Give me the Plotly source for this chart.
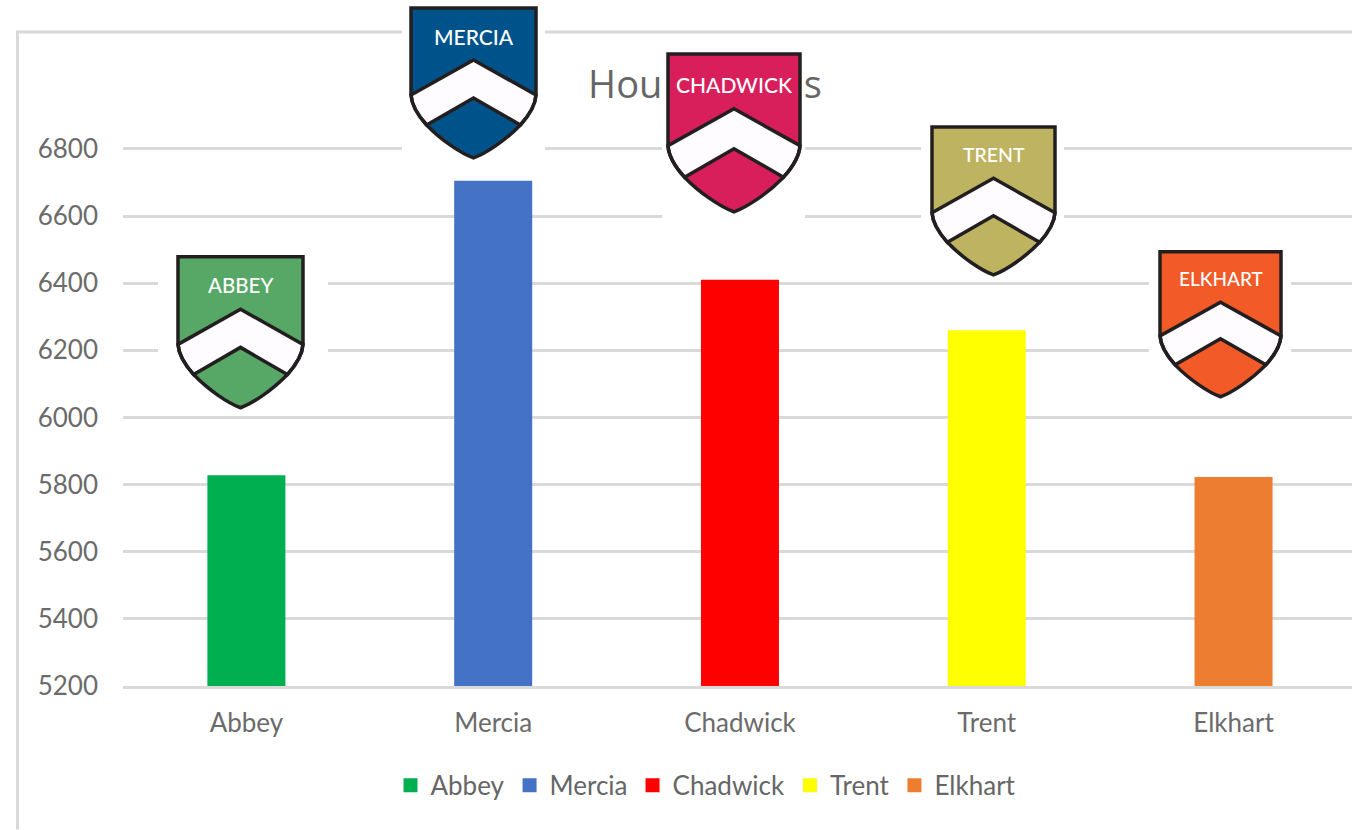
import plotly.graph_objects as go

houses = ["Abbey", "Mercia", "Chadwick", "Trent", "Elkhart"]
points = [5825, 6702, 6407, 6257, 5820]
bar_colors = ["#00b050", "#4472c4", "#ff0000", "#ffff00", "#ed7d31"]
y_ticks = [5200, 5400, 5600, 5800, 6000, 6200, 6400, 6600, 6800]
title_text = "House Points"
crest_labels = ["ABBEY", "MERCIA", "CHADWICK", "TRENT", "ELKHART"]
crest_colors = ["#57a866", "#00528a", "#d81e5b", "#bdb361", "#f25a27"]
crest_label_sizes = [20.5, 21, 21, 19.5, 19]

W, H = 1352, 830
L, T, B = 123, 100, 686.5
PX_6800 = 149
Y_TOP = 6800 + (PX_6800 - T) * 1600 / (B - PX_6800)
def px(x): return (x - L) / (W - L)
def py(y): return (B - y) / (B - T)

# decoration boxes (left, right, top, bottom) in page pixels
crest_boxes = [(178, 303, 257, 408), (411, 536, 8, 158), (668, 800, 54, 212),
               (932, 1055, 127, 275), (1160, 1281, 252, 397)]
mask_boxes = [(158, 328, 248, 400), (402, 545, 0, 162), (662, 805, 46, 218),
              (921, 1064, 122, 278), (1149, 1291, 246, 402)]
label_y = [285, 36, 84, 155, 279]

def pt(box, nx, ny):
    l, r, t, b = box
    return f"{px((l + r) / 2 + nx * (r - l) / 2):.5f},{py(t + ny * (b - t)):.5f}"

def shield_path(box):
    return ("M" + pt(box, -1, 0) + " L" + pt(box, 1, 0) + " L" + pt(box, 1, .58) +
            " C" + pt(box, .99, .65) + " " + pt(box, .88, .72) + " " + pt(box, .75, .78) +
            " C" + pt(box, .52, .88) + " " + pt(box, .2, .97) + " " + pt(box, 0, 1) +
            " C" + pt(box, -.2, .97) + " " + pt(box, -.52, .88) + " " + pt(box, -.75, .78) +
            " C" + pt(box, -.88, .72) + " " + pt(box, -.99, .65) + " " + pt(box, -1, .58) + " Z")

def band_path(box):
    return ("M" + pt(box, -1, .58) + " L" + pt(box, 0, .347) + " L" + pt(box, 1, .58) +
            " C" + pt(box, .99, .65) + " " + pt(box, .88, .72) + " " + pt(box, .75, .78) +
            " L" + pt(box, 0, .6) + " L" + pt(box, -.75, .78) +
            " C" + pt(box, -.88, .72) + " " + pt(box, -.99, .65) + " " + pt(box, -1, .58) + " Z")

ink = "#231f20"
shapes = [
    dict(type="path", xref="paper", yref="paper",
         path=f"M{px(17.5)},{py(830)} L{px(17.5)},{py(32)} L{px(1360)},{py(32)}",
         line=dict(color="#d9d9d9", width=3), layer="above"),
    dict(type="rect", xref="paper", yref="paper", x0=px(560), x1=px(850), y0=py(110), y1=py(62),
         line=dict(width=0), fillcolor="rgba(0,0,0,0)", layer="above",
         label=dict(text=title_text, font=dict(family="Open Sans", size=38, color="#666666"),
                    textposition="middle center")),
]
for box in mask_boxes:
    shapes.append(dict(type="rect", xref="paper", yref="paper", x0=px(box[0]), x1=px(box[1]),
                       y0=py(box[3]), y1=py(box[2]), line=dict(width=0),
                       fillcolor="white", layer="above"))
for box, col in zip(crest_boxes, crest_colors):
    shapes.append(dict(type="path", xref="paper", yref="paper", path=shield_path(box),
                       fillcolor=col, line=dict(width=0), layer="above"))
    shapes.append(dict(type="path", xref="paper", yref="paper", path=band_path(box),
                       fillcolor="#fefcfe", line=dict(color=ink, width=3.5), layer="above"))
    shapes.append(dict(type="path", xref="paper", yref="paper", path=shield_path(box),
                       fillcolor="rgba(0,0,0,0)", line=dict(color=ink, width=3.5), layer="above"))

annotations = [
    dict(text=t, xref="paper", yref="paper", x=px((b[0] + b[1]) / 2), y=py(yy),
         xanchor="center", yanchor="middle", showarrow=False,
         font=dict(family="Lato", size=s, color="white", weight=500))
    for t, b, yy, s in zip(crest_labels, crest_boxes, label_y, crest_label_sizes)
]

fig = go.Figure()
for name, val, col in zip(houses, points, bar_colors):
    fig.add_trace(go.Bar(x=[name], y=[val], name=name,
                         marker=dict(color=col, line=dict(width=2, color=col)),
                         width=0.308))

fig.update_layout(
    width=W, height=H, margin=dict(l=L, r=0, t=T, b=H - B, autoexpand=False),
    paper_bgcolor="white", plot_bgcolor="white", barmode="overlay",
    font=dict(family="Open Sans", color="#6b6b6b"),
    shapes=shapes, annotations=annotations,
    legend=dict(orientation="h", x=px(706), xanchor="center", y=py(786), yanchor="middle",
                font=dict(size=26, family="Lato", color="#666666"), bgcolor="rgba(0,0,0,0)",
                itemclick=False, itemdoubleclick=False),
    xaxis=dict(type="category", categoryorder="array", categoryarray=houses, range=[-0.5, 4.48],
               showgrid=False, showline=True, linecolor="#d9d9d9", linewidth=3,
               tickfont=dict(size=26, family="Lato", color="#6b6b6b"), ticks="", ticklabelstandoff=12),
    yaxis=dict(range=[5200, Y_TOP], tickvals=y_ticks, showgrid=True, gridcolor="#d9d9d9", gridwidth=3,
               zeroline=False, showline=False, ticks="", ticklabelstandoff=24,
               tickfont=dict(size=26, family="Lato", color="#6b6b6b")),
)

fig.write_html("out.html", config=dict(displayModeBar=False),
               post_script="document.body.style.margin='0';document.body.style.overflow='hidden';")
